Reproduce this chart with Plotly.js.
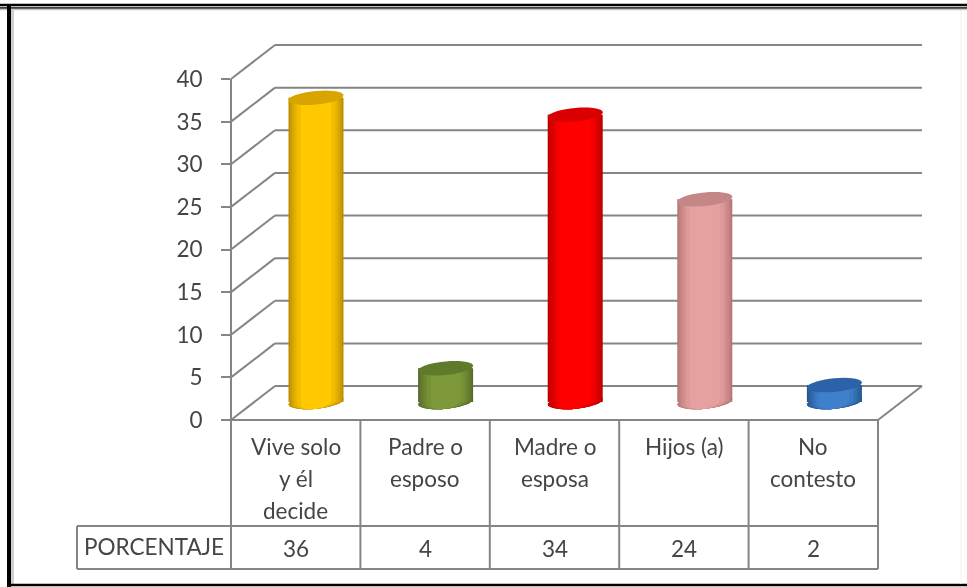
<!DOCTYPE html>
<html><head><meta charset="utf-8">
<script src="https://cdn.plot.ly/plotly-3.0.1.min.js"></script>
<style>html,body{margin:0;padding:0;background:#fff;overflow:hidden}#c{width:967px;height:587px;filter:blur(0.45px)}</style>
</head><body><div id="c"></div>
<script>
// ---- data ----
const categories = ['Vive solo y él decide','Padre o esposo','Madre o esposa','Hijos (a)','No contesto'];
const categoryLines = [['Vive solo','y él','decide'],['Padre o','esposo'],['Madre o','esposa'],['Hijos (a)'],['No','contesto']];
const values = [36,4,34,24,2];
const rowLabel = 'PORCENTAJE';
const axisTicks = [0,5,10,15,20,25,30,35,40];
// ---- styles ----
const baseColors = ['#ffc800','#7c9838','#ff0000','#e6a0a0','#3f80cc'];
const edgeColors = ['#b98c00','#56692a','#b80000','#b57575','#23558f'];
const topColors  = ['#d8a400','#5f7a2a','#d80000','#c48686','#2c63a8'];
const W=967,H=587;
const ink='#454545', line='#858585', font='Lato, Carlito, sans-serif', fs=22.5;
const front={x0:231,x1:878,y0:420,unit:8.525}, depth={dx:44,dy:-34};
const barPx={x0:316,step:129.6,y0:402,unit:8.45,halfW:27.5,halfH:6.8,tilt:2.5};
const px=x=>x/W, py=y=>1-y/H;
const hex=c=>[1,3,5].map(i=>parseInt(c.substr(i,2),16));
const mix=(a,b,t)=>{const A=hex(a),B=hex(b);return 'rgb('+A.map((v,i)=>Math.round(v+(B[i]-v)*t)).join(',')+')';};
const xUnit=1/barPx.step*barPx.halfW, yUnit=1/barPx.unit;
const idx=values.map((_,i)=>i);

const shapes=[];
const seg=(x0,y0,x1,y1,c=line,w=2)=>shapes.push({type:'line',xref:'paper',yref:'paper',x0:px(x0),y0:py(y0),x1:px(x1),y1:py(y1),line:{color:c,width:w},layer:'below'});
// frame
seg(0,5,W,5,'#000',2.5); seg(0,8,W,8,'#000',1.5); seg(0,9.5,W,9.5,'#c4c4c4',1.5);
seg(9,4,9,587,'#000',4); seg(12.5,9,12.5,585,'#cfcfcf',3);
seg(7,585,W,585,'#000',2.5); seg(961,10,961,584,'#f0f0f0',1);
// walls and gridlines
axisTicks.forEach(v=>{
  const y=front.y0-v*front.unit;
  seg(front.x0,y,front.x0+depth.dx,y+depth.dy);
  seg(front.x0+depth.dx,y+depth.dy,front.x1+depth.dx,y+depth.dy);
});
seg(front.x1,front.y0,front.x1+depth.dx,front.y0+depth.dy);
// table
const rowTop=526,rowBot=569,labelX=77,colW=(front.x1-front.x0)/categories.length;
seg(front.x0,front.y0,front.x1,front.y0);
seg(labelX,rowTop,front.x1,rowTop); seg(labelX,rowBot,front.x1,rowBot); seg(labelX,rowTop,labelX,rowBot);
for(let i=1;i<=categories.length;i++) seg(front.x0+colW*i,front.y0,front.x0+colW*i,rowBot);
seg(front.x0,front.y0,front.x0,rowBot);

// cylinders
const layers=[1,.96,.92,.87,.8,.7,.55];
const shade=f=>Math.min(1,Math.pow(1-f,0.8)*2.2);
const ell=(i,v,fx,color,layer)=>{
  let d='';
  for(let k=0;k<=36;k++){
    const t=k/36*2*Math.PI, c=Math.cos(t), s=Math.sin(t);
    const x=i+xUnit*fx*c, y=v+yUnit*(barPx.halfH*s+barPx.tilt*c);
    d+=(k?'L':'M')+x.toFixed(4)+','+y.toFixed(4);
  }
  shapes.push({type:'path',xref:'x',yref:'y',path:d+'Z',fillcolor:color,line:{width:0},layer});
};
idx.forEach(i=>layers.forEach(f=>ell(i,0,f,mix(edgeColors[i],baseColors[i],shade(f)),'below')));
idx.forEach(i=>ell(i,values[i],1,topColors[i],'above'));

const traces=layers.map(f=>({
  type:'bar',x:idx,y:values,width:2*xUnit*f,
  marker:{color:idx.map(i=>mix(edgeColors[i],baseColors[i],shade(f))),line:{width:0}},
  hoverinfo:'skip',showlegend:false,xaxis:'x',yaxis:'y'
}));
// invisible carrier so the value axis with its labels is drawn
traces.push({type:'scatter',mode:'markers',x:idx,y:values,yaxis:'y2',xaxis:'x',marker:{opacity:0},hoverinfo:'skip',showlegend:false});

const annotations=[];
const note=(x,y,text)=>annotations.push({xref:'paper',yref:'paper',x:px(x),y:py(y),text,showarrow:false,xanchor:'center',yanchor:'middle',font:{family:font,size:fs,color:ink}});
categoryLines.forEach((ls,i)=>ls.forEach((t,j)=>note(front.x0+colW*(i+.5),446.5+j*32,t)));
values.forEach((v,i)=>note(front.x0+colW*(i+.5),548,String(v)));
note(153.5,546.5,rowLabel);

Plotly.newPlot('c',traces,{
  width:W,height:H,margin:{l:0,r:0,t:0,b:0,pad:0},
  paper_bgcolor:'#fff',plot_bgcolor:'rgba(0,0,0,0)',barmode:'overlay',showlegend:false,hovermode:false,
  xaxis:{domain:[0,1],range:[-barPx.x0/barPx.step,(W-barPx.x0)/barPx.step],type:'linear',visible:false,fixedrange:true},
  yaxis:{domain:[0,1],range:[-(H-barPx.y0)/barPx.unit,barPx.y0/barPx.unit],visible:false,fixedrange:true},
  yaxis2:{anchor:'free',position:px(front.x0),side:'left',
    domain:[py(front.y0),py(front.y0-40*front.unit)],range:[0,40],tickmode:'array',tickvals:axisTicks,
    ticks:'outside',ticklen:9,tickcolor:line,tickwidth:2,showline:true,linecolor:line,linewidth:2,showgrid:false,zeroline:false,
    ticklabelstandoff:14,tickfont:{family:font,size:fs,color:ink},fixedrange:true},
  shapes,annotations
},{displayModeBar:false,staticPlot:true});
</script></body></html>
